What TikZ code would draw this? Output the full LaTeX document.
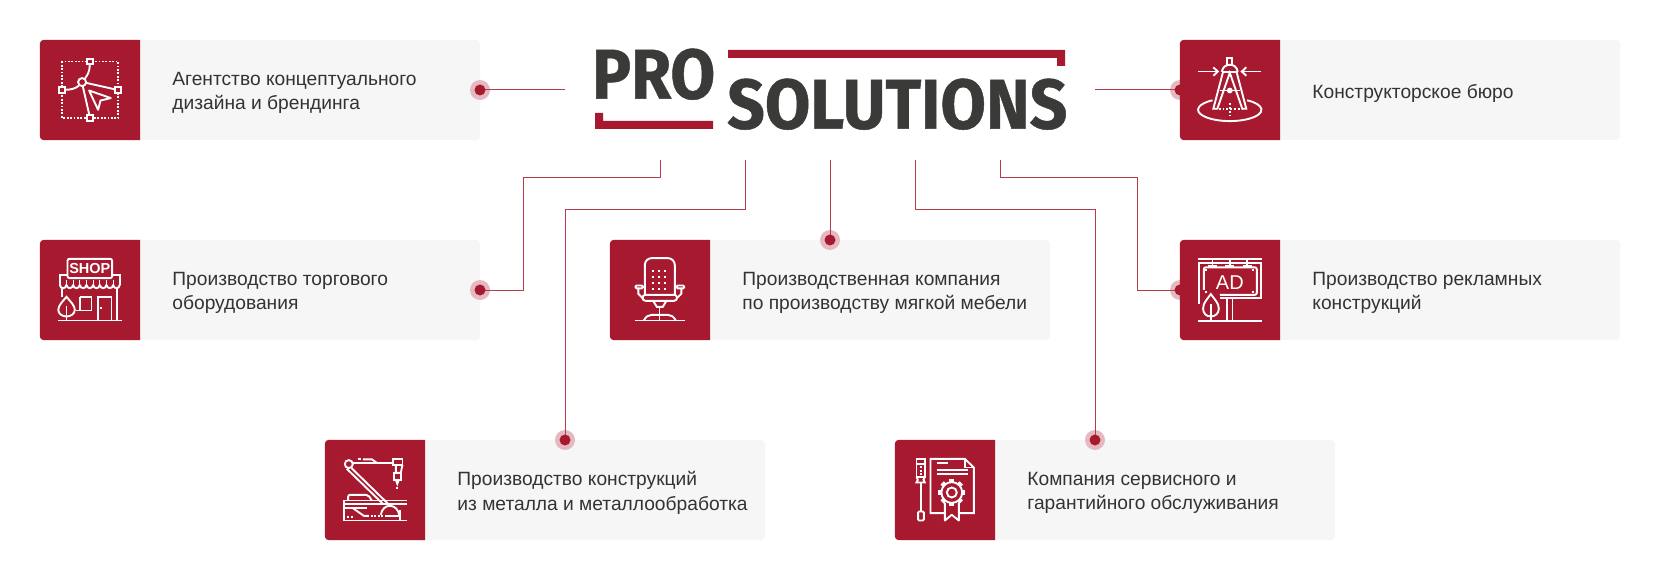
\documentclass[tikz,border=0pt]{standalone}
\usepackage{fontspec}
\setmainfont{Liberation Sans}
\newfontfamily\logofont[BoldFeatures={FakeBold=0.7}]{Fira Sans}
\usetikzlibrary{positioning}
\definecolor{brand}{HTML}{A6192E}
\definecolor{cardgray}{HTML}{F6F6F6}
\definecolor{logogray}{HTML}{3A3B39}
\definecolor{copygray}{HTML}{333333}
\tikzset{
  cardbox/.style={rectangle,rounded corners=4pt,fill=cardgray,minimum width=440pt,minimum height=100pt,inner sep=0pt},
  cardtext/.style={text=copygray,align=left,inner sep=0pt,yshift=-3pt,font=\fontsize{19.2}{24.5}\selectfont},
  tilebox/.style={rectangle,minimum width=100pt,minimum height=100pt,inner sep=0pt},
  ringdot/.style={circle,fill=brand!30,minimum size=20pt,inner sep=0pt},
  coredot/.style={circle,fill=brand,minimum size=11pt,inner sep=0pt},
  link/.style={draw=brand!85,line width=1pt},
  ico/.style={draw=white,line width=1.9pt},
  icotext/.style={text=white,inner sep=0pt},
  % Agency: selection frame and cursor
  iconagency/.pic={
    \draw[white,line width=1.8pt,dash pattern=on 1.8pt off 1.6pt] (22.3,21.7) rectangle (78.3,78.3);
    \draw[ico] (45,39) .. controls (48,35) and (50,31) .. (50,25);
    \draw[ico] (39,46) .. controls (35,49) and (31,50) .. (25,50);
    \draw[ico] (46,43) -- (75,49.5);
    \draw[ico] (43,46.5) -- (49.5,75);
    \draw[ico] (42.3,42.3) circle [radius=4];
    \foreach \hx/\hy in {50/21.7,22.3/50,78.3/50,50/78.3}
      \draw[ico,fill=brand] (\hx-2.8,\hy-2.8) rectangle (\hx+2.8,\hy+2.8);
    \draw[ico,line join=round] (49.3,50.7) -- (71,58.3) -- (60.7,60.7) -- (58.3,70) -- cycle;
  },
  % Design office: compass over an ellipse
  iconcompass/.pic={
    \draw[ico] (32.7,60.5) arc [start angle=237,end angle=-57,x radius=31.7,y radius=11.3];
    \draw[ico] (18.5,31.7) -- (38,31.7);
    \draw[ico] (33.5,27.5) -- (38,31.7) -- (33.5,36);
    \draw[ico] (81.5,31.7) -- (62,31.7);
    \draw[ico] (66.5,27.5) -- (62,31.7) -- (66.5,36);
    \draw[ico] (47.5,25) rectangle (52.5,18.5);
    \draw[ico] (42,32) .. controls (43,27) and (46,25) .. (50,25) .. controls (54,25) and (57,27) .. (58,32);
    \draw[ico] (43,33) -- (33.5,69) -- (37.5,69) -- (50,33) -- (62.5,69) -- (66.5,69) -- (57,33);
    \draw[ico] (42,32) -- (58,32);
    \draw[ico] (40,50.7) -- (60,50.7);
    \fill[white] (50,50.7) circle [radius=2.9];
    \draw[white,line width=1.8pt,dash pattern=on 1.8pt off 2pt] (39,69) -- (62,69);
    \draw[white,line width=1.8pt,dash pattern=on 1.8pt off 2pt] (50,63.5) -- (50,75);
  },
  % Shop front with awning and sign
  iconshop/.pic={
    \draw[ico] (20,45) -- (20,35) -- (80,35) -- (80,45);
    \foreach \sx in {0,...,8}
      \draw[ico] (20+\sx*6.667,45) .. controls (20.5+\sx*6.667,49.5) and (26.2+\sx*6.667,49.5) .. (26.667+\sx*6.667,45);
    \foreach \tx in {1,...,8}
      \draw[white,line width=1pt] (20+\tx*6.667,40) -- (20+\tx*6.667,45);
    \draw[ico,fill=brand,rounded corners=2pt] (27.7,19) rectangle (72.3,38.3);
    \node[icotext,font=\bfseries\fontsize{14.5}{14.5}\selectfont] (shopword) at (50,28.8) {SHOP};
    \draw[ico] (22.3,48) -- (22.3,57);
    \draw[ico] (77.3,48) -- (77.3,80);
    \draw[ico] (40,57) -- (51.7,57) -- (51.7,70.7) -- (36,70.7);
    \draw[ico] (40,57) -- (40,70.7);
    \draw[ico] (58,80) -- (58,57) -- (71.7,57) -- (71.7,80);
    \fill[white] (60.5,67) rectangle (62,69);
    \draw[ico] (18,80.7) -- (82,80.7);
    \draw[ico,fill=brand] (26.7,57) .. controls (31,62) and (35,66) .. (35,70) .. controls (35,74) and (31,76.7) .. (26.7,76.7)
      .. controls (22.4,76.7) and (18.5,74) .. (18.5,70) .. controls (18.5,66) and (22.4,62) .. (26.7,57) -- cycle;
    \draw[ico] (26.7,66) -- (26.7,80.7);
  },
  % Office chair
  iconchair/.pic={
    \draw[ico,rounded corners=7pt] (35,55) -- (35,18.3) -- (65,18.3) -- (65,55);
    \foreach \cx in {43.3,49.3,55.3}
      \foreach \cy in {31,37,43,49}
        \fill[white] (\cx-1,\cy-1) rectangle (\cx+1,\cy+1);
    \draw[ico,rounded corners=3pt] (32.7,55) rectangle (67.3,61);
    \draw[ico,rounded corners=1pt] (25.7,45.7) rectangle (33,48.5);
    \draw[ico,rounded corners=1pt] (67,45.7) rectangle (74.3,48.5);
    \draw[ico] (28.5,48.5) -- (28.5,54) -- (33.5,59);
    \draw[ico] (71.5,48.5) -- (71.5,54) -- (66.5,59);
    \draw[ico] (43.3,61) -- (47,67) -- (53,67) -- (56.7,61);
    \draw[ico] (49.7,67) -- (49.7,80.7);
    \draw[ico] (34,80.7) .. controls (36,77) and (38.5,75) .. (42,75) -- (58,75) .. controls (61.5,75) and (64,77) .. (66,80.7);
    \draw[ico] (25,80.7) -- (75,80.7);
  },
  % Billboard with a tree
  iconboard/.pic={
    \draw[ico] (18.3,19) -- (81.7,19);
    \foreach \bx in {32.7,50,67.3}{
      \draw[ico] (\bx,19) -- (\bx,26.5);
      \draw[ico] (\bx-4.5,26.5) -- (\bx+4.5,26.5);
    }
    \draw[ico] (19,64) -- (19,23.5) -- (81,23.5) -- (81,58.5) -- (40,58.5);
    \draw[ico,rounded corners=2pt] (24,50) -- (24,27.5) -- (77,27.5) -- (77,55) -- (40,55);
    \fill[white] (25.5,29) rectangle (27.5,31);
    \fill[white] (72.5,29) rectangle (74.5,31);
    \fill[white] (72.5,51) rectangle (74.5,53);
    \fill[white] (25.5,51) rectangle (27.5,53);
    \node[icotext,font=\fontsize{20}{20}\selectfont] (boardword) at (50,43) {AD};
    \draw[ico] (47.3,58.5) -- (47.3,81);
    \draw[ico] (52.7,58.5) -- (52.7,81);
    \draw[ico] (18,81) -- (82,81);
    \draw[ico,fill=brand] (31,54.3) .. controls (35,60) and (39,63) .. (39,69) .. controls (39,73.5) and (35.5,76.7) .. (31,76.7)
      .. controls (26.5,76.7) and (23.3,73.5) .. (23.3,69) .. controls (23.3,63) and (27,60) .. (31,54.3) -- cycle;
    \draw[ico] (31,64) -- (31,81);
  },
  % Robot arm over a metal bench
  iconrobot/.pic={
    \draw[ico] (28,23.3) -- (68.3,23.3);
    \draw[ico] (33,19.5) -- (36,19.5);
    \draw[ico] (38,19.5) -- (47,19.5) -- (52,23);
    \draw[ico] (68.3,19.3) rectangle (77.7,25);
    \draw[ico] (71,25) -- (71,33) -- (76,33) -- (77.7,25);
    \draw[ico] (69,33) rectangle (76,40);
    \draw[ico] (71,40) -- (72.5,44) -- (74,40);
    \fill[white] (71.5,47) rectangle (73.5,49);
    \draw[ico] (26.7,28.3) -- (63.3,64);
    \draw[ico] (22,29) -- (58,64);
    \draw[ico,fill=brand] (24,24.3) circle [radius=4];
    \draw[ico,rounded corners=2pt] (23.3,60.7) -- (23.3,55) -- (43.3,55) -- (47,60.7);
    \draw[ico] (18.3,60.7) -- (82.3,60.7);
    \draw[ico] (18.3,64) -- (82.3,64);
    \draw[ico] (19,60.7) -- (19,80.7);
    \draw[ico] (18.3,80.7) -- (82,80.7);
    \draw[ico] (20,68.3) -- (42,68.3);
    \draw[ico] (28,68.3) -- (39,76) -- (44,76);
    \draw[white,line width=1.8pt,dash pattern=on 2pt off 1.5pt] (46,76) -- (60,76);
    \draw[ico] (60,76) -- (75,76);
    \draw[ico] (56,75) .. controls (57,69) and (61,66) .. (65,66) .. controls (70,66) and (74,70) .. (74.5,76);
    \draw[ico] (75,70) -- (75,80.7);
    \fill[white] (22,76) rectangle (24,78);
    \fill[white] (26,76) rectangle (28,78);
  },
  % Screwdriver and warranty sheet
  iconservice/.pic={
    \draw[ico] (21.7,19) rectangle (30,37);
    \draw[ico] (21.7,24) -- (30,24);
    \draw[ico] (21.7,37) -- (23,40) -- (21.7,42.7) -- (30,42.7) -- (28.7,40) -- (30,37);
    \foreach \gy in {27.5,31,34.5}
      \fill[white] (25,\gy-.9) rectangle (26.8,\gy+.9);
    \draw[ico] (26,42.7) -- (26,71.7);
    \draw[ico,rounded corners=1pt] (23.3,71.7) rectangle (29,80.7);
    \draw[ico] (50,73.3) -- (35.7,73.3) -- (35.7,19) -- (70,19) -- (79,27.7) -- (79,73.3) -- (64,73.3);
    \draw[ico] (70,19) -- (70,27.7) -- (79,27.7);
    \draw[ico] (41.7,23.3) -- (53.3,23.3);
    \draw[ico] (41.7,30) -- (73.3,30);
    \draw[ico] (41.7,34.3) -- (73.3,34.3);
    \draw[ico,line join=round,fill=brand] (50,63.3) -- (50,80.7) -- (57,75) -- (64,80.7) -- (64,63.3);
    \foreach \ga in {0,45,...,315}
      \fill[white,shift={(57,52.7)},rotate=\ga] (-2.4,-13.5) rectangle (2.4,-9);
    \draw[ico,fill=brand] (57,52.7) circle [radius=10.4];
    \draw[ico] (57,52.7) circle [radius=5];
  }
}
\begin{document}
\begin{tikzpicture}[x=1pt,y=-1pt]
  \useasboundingbox[fill=white] (0,0) rectangle (1660,580);
  % The cards and their texts.
  \foreach \cname/\cx/\cy/\ctext in {
      agency/260/90/{Агентство концептуального\\дизайна и брендинга},
      office/1400/90/{Конструкторское бюро},
      shop/260/290/{Производство торгового\\оборудования},
      chair/830/290/{Производственная компания\\по производству мягкой мебели},
      board/1400/290/{Производство рекламных\\конструкций},
      metal/545/490/{Производство конструкций\\из металла и металлообработка},
      service/1115/490/{Компания сервисного и\\гарантийного обслуживания}}{
    \node[cardbox] (\cname) at (\cx,\cy) {};
    \node[tilebox,anchor=west] (\cname tile) at (\cname.west) {};
    \node[cardtext,right=32pt of \cname tile] (\cname text) {\ctext};
  }
  % The logo.
  \node[anchor=south west,inner sep=0pt,text=logogray] (logopro) at (592,100)
    {\resizebox{123pt}{50pt}{\logofont\bfseries PRO}};
  \node[anchor=south west,inner sep=0pt,text=logogray] (logosolutions) at (727,130)
    {\resizebox{340pt}{50pt}{\logofont\bfseries SOLUTIONS}};
  \fill[brand] (595,113) -- (603,113) -- (603,121) -- (713,121) -- (713,129) -- (595,129) -- cycle;
  \fill[brand] (728,50) -- (1065,50) -- (1065,66) -- (1057,66) -- (1057,58) -- (728,58) -- cycle;
  % The dots at the ends of the connectors.
  \node[ringdot] (ringagency) at (480,90) {};
  \node[ringdot] (ringoffice) at (1180,90) {};
  \node[ringdot] (ringshop) at (480,290) {};
  \node[ringdot] (ringchair) at (830,240) {};
  \node[ringdot] (ringboard) at (1180,290) {};
  \node[ringdot] (ringmetal) at (565,440) {};
  \node[ringdot] (ringservice) at (1095,440) {};
  % The connectors.
  \coordinate (stubleft) at (565,90);
  \coordinate (stubright) at (1095,90);
  \coordinate (stubshop) at (660,160);
  \coordinate (stubmetal) at (745,160);
  \coordinate (stubchair) at (830,160);
  \coordinate (stubservice) at (915,160);
  \coordinate (stubboard) at (1000,160);
  \draw[link] (ringagency.center) -- (stubleft);
  \draw[link] (stubright) -- (ringoffice.center);
  \draw[link] (stubshop) -- ++(0,18) -| (523,290) -- (ringshop.center);
  \draw[link] (stubmetal) |- (565,210) -- (ringmetal.center);
  \draw[link] (stubchair) -- (ringchair.center);
  \draw[link] (stubservice) |- (1095,210) -- (ringservice.center);
  \draw[link] (stubboard) -- ++(0,18) -| (1137,290) -- (ringboard.center);
  \foreach \dname in {agency,office,shop,chair,board,metal,service}
    \node[coredot] at (ring\dname) {};
  % The red tiles with their icons.
  \foreach \cname/\iname in {agency/iconagency,office/iconcompass,shop/iconshop,chair/iconchair,
      board/iconboard,metal/iconrobot,service/iconservice}{
    \fill[brand] (\cname tile.north east) [rounded corners=4pt] -- (\cname tile.north west)
      -- (\cname tile.south west) [sharp corners] -- (\cname tile.south east) -- cycle;
    \pic at (\cname tile.north west) {\iname};
  }
\end{tikzpicture}
\end{document}
